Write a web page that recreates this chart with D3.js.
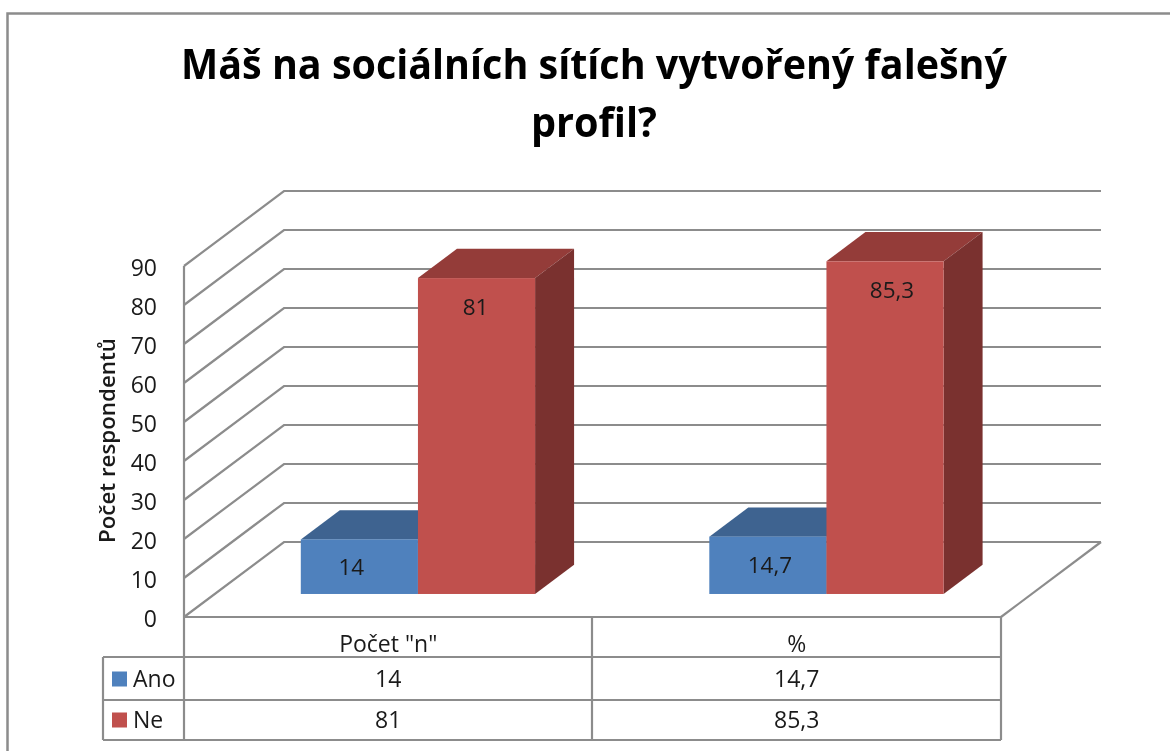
<!DOCTYPE html>
<html>
<head>
<meta charset="utf-8">
<script src="https://cdn.jsdelivr.net/npm/d3@7"></script>
<style>
  html, body { margin: 0; background: #fff; }
  svg { display: block; filter: blur(0.6px); }
  text { font-family: "Open Sans", sans-serif; fill: #1a1a1a; }
</style>
</head>
<body>
<svg width="1170" height="751"></svg>
<script>
const titleLines = ["Máš na sociálních sítích vytvořený falešný", "profil?"];
const yLabel = "Počet respondentů";
const categories = ['Počet "n"', "%"];
const seriesNames = ["Ano", "Ne"];
const ano = [14, 14.7];
const ne = [81, 85.3];
const anoLabels = ["14", "14,7"];
const neLabels = ["81", "85,3"];
const yTicks = [0, 10, 20, 30, 40, 50, 60, 70, 80, 90];

const svg = d3.select("svg");
const gray = "#8c8c8c";

const y = d3.scaleLinear().domain([0, 90]).range([617, 266]);
const x = d3.scaleBand().domain(categories).range([184, 1001]);
const inner = d3.scaleBand().domain(seriesNames).range([86 / 408, 320 / 408]);

// depth 0 = front of the floor, 1 = back wall
const skewX = 100;
const skewY = -75;
function pt(px, v, depth) {
  return [px + skewX * depth, y(v) + skewY * depth];
}

function line(points, width) {
  svg.append("path")
    .attr("d", d3.line()(points))
    .attr("fill", "none")
    .attr("stroke", gray)
    .attr("stroke-width", width || 2.2);
}

// outer frame
svg.append("rect")
  .attr("x", 7.5).attr("y", 13.5)
  .attr("width", 1200).attr("height", 800)
  .attr("fill", "none")
  .attr("stroke", gray)
  .attr("stroke-width", 2.5);

// title glyphs are squeezed a little, the original font is narrower
svg.selectAll(".title")
  .data(titleLines)
  .enter()
  .append("text")
  .attr("x", 594)
  .attr("y", function(d, i) { return 79 + i * 58; })
  .attr("text-anchor", "middle")
  .attr("font-size", 42)
  .attr("font-weight", 700)
  .attr("textLength", function(d, i) { return i === 0 ? 826 : 126; })
  .attr("lengthAdjust", "spacingAndGlyphs")
  .style("fill", "#000")
  .text(function(d) { return d; });

// walls
yTicks.forEach(function(t) {
  line([pt(184, t, 0), pt(184, t, 1), pt(1001, t, 1)]);
});
line([pt(184, 0, 0), pt(184, 90, 0)]);
line([pt(1001, 0, 1), pt(1001, 0, 0)]);

svg.selectAll(".tick")
  .data(yTicks)
  .enter()
  .append("text")
  .attr("x", 157)
  .attr("y", function(d) { return y(d) + 9.5; })
  .attr("text-anchor", "end")
  .attr("font-size", 23)
  .text(function(d) { return d; });

svg.append("text")
  .attr("transform", "translate(115,440.5) rotate(-90)")
  .attr("text-anchor", "middle")
  .attr("font-size", 22)
  .attr("font-weight", 600)
  .attr("textLength", 205)
  .attr("lengthAdjust", "spacingAndGlyphs")
  .text(yLabel);

// bars
const depthFront = 0.307;
const depthBack = 0.697;
const colors = {
  Ano: { front: "#4f81bd", top: "#3e6390", side: "#335a85" },
  Ne: { front: "#c0504d", top: "#943c39", side: "#7a312f" }
};

function bar(cat, name, v, label, shift) {
  const left = x(cat) + inner(name) * x.bandwidth();
  const right = left + inner.bandwidth() * x.bandwidth();
  const c = colors[name];
  const poly = function(points, fill) {
    svg.append("polygon").attr("points", points.join(" ")).attr("fill", fill);
  };
  poly([pt(left, v, depthFront), pt(right, v, depthFront), pt(right, v, depthBack), pt(left, v, depthBack)], c.top);
  poly([pt(right, 0, depthFront), pt(right, v, depthFront), pt(right, v, depthBack), pt(right, 0, depthBack)], c.side);
  const a = pt(left, v, depthFront);
  const b = pt(right, 0, depthFront);
  svg.append("rect")
    .attr("x", a[0]).attr("y", a[1])
    .attr("width", b[0] - a[0]).attr("height", b[1] - a[1])
    .attr("fill", c.front);
  svg.append("text")
    .attr("x", (a[0] + b[0]) / 2 + shift)
    .attr("y", name === "Ano" ? (a[1] + b[1]) / 2 + 8 : a[1] + 37)
    .attr("text-anchor", "middle")
    .attr("font-size", 22.5)
    .text(label);
}

bar(categories[0], "Ano", ano[0], anoLabels[0], -8);
bar(categories[0], "Ne", ne[0], neLabels[0], -1);
bar(categories[1], "Ano", ano[1], anoLabels[1], 2);
bar(categories[1], "Ne", ne[1], neLabels[1], 7);

// data table
const rowBase = [652, 687, 728];
const tableLeft = 103;
[657, 700, 740].forEach(function(r) { line([[tableLeft, r], [1001, r]]); });
line([[184, 617], [1001, 617]]);
line([[tableLeft, 657], [tableLeft, 740]]);
[184, 592, 1001].forEach(function(c) { line([[c, 617], [c, 740]]); });

categories.forEach(function(cat, i) {
  const cx = x(cat) + x.bandwidth() / 2;
  [cat, anoLabels[i], neLabels[i]].forEach(function(cell, r) {
    svg.append("text")
      .attr("x", cx)
      .attr("y", rowBase[r])
      .attr("text-anchor", "middle")
      .attr("font-size", 23)
      .text(cell);
  });
});

seriesNames.forEach(function(name, i) {
  svg.append("rect")
    .attr("x", 112).attr("y", rowBase[i + 1] - 15.5)
    .attr("width", 15).attr("height", 15)
    .attr("fill", colors[name].front);
  svg.append("text")
    .attr("x", 133).attr("y", rowBase[i + 1])
    .attr("font-size", 23)
    .text(name);
});
</script>
</body>
</html>
